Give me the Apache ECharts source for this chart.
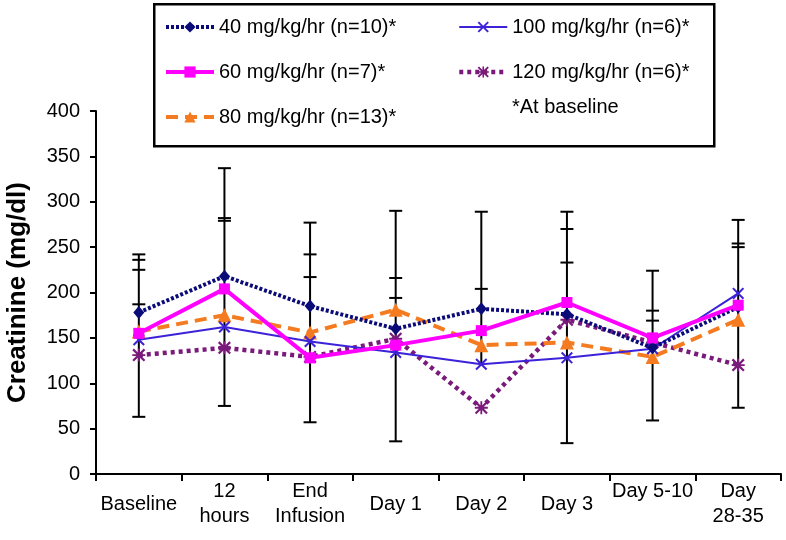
<!DOCTYPE html>
<html>
<head>
<meta charset="utf-8">
<script src="https://cdn.jsdelivr.net/npm/echarts@6/dist/echarts.min.js"></script>
<style>
html,body{margin:0;padding:0;background:#fff;}
#chart{width:786px;height:540px;}
</style>
</head>
<body>
<div id="chart"></div>
<script>
var categories = ['Baseline', '12\nhours', 'End\nInfusion', 'Day 1', 'Day 2', 'Day 3', 'Day 5-10', 'Day\n28-35'];
var yTicks = [0, 50, 100, 150, 200, 250, 300, 350, 400];

var s40 = [178, 218, 185, 160, 182, 176, 139, 184];
var s60 = [155, 204, 128, 142, 158, 189, 150, 186];
var s80 = [157, 175, 156, 181, 142, 145, 129, 170];
var s100 = [148, 162, 146, 134, 121, 128, 138, 199];
var s120 = [131, 139, 129, 149, 73, 170, 145, 120];

var errLow = [63, 75, 57, 36, 121, 34, 59, 73];
var errHigh = [242, 337, 277, 290, 289, 289, 224, 280];
var errCaps = [
  [242, 236, 225, 187, 63],
  [337, 282, 279, 75],
  [277, 242, 217, 57],
  [290, 216, 194, 36],
  [289, 204],
  [289, 270, 233, 34],
  [224, 180, 169, 59],
  [280, 254, 250, 73]
];

var names = ['40 mg/kg/hr (n=10)*', '60 mg/kg/hr (n=7)*', '80 mg/kg/hr (n=13)*', '100 mg/kg/hr (n=6)*', '120 mg/kg/hr (n=6)*'];
var note = '*At baseline';

var FONT = "'Liberation Sans', Arial, Helvetica, sans-serif";
var xPath = 'path://M0,1.2L1.2,0L5,3.8L8.8,0L10,1.2L6.2,5L10,8.8L8.8,10L5,6.2L1.2,10L0,8.8L3.8,5Z';
var starPath = 'path://M4.3,0H5.7V10H4.3Z M0,1.2L1.2,0L5,3.8L8.8,0L10,1.2L6.2,5L10,8.8L8.8,10L5,6.2L1.2,10L0,8.8L3.8,5Z M0,4.3H10V5.7H0Z';

var errData = categories.map(function (c, i) { return [i, errLow[i], errHigh[i]]; });

var legendText = {fontSize: 20, color: '#000', fontFamily: FONT, lineHeight: 20};

var chart = echarts.init(document.getElementById('chart'), null, {renderer: 'canvas'});
var option = {
  backgroundColor: '#ffffff',
  animation: false,
  textStyle: {fontFamily: FONT},
  grid: {left: 96, right: 5, top: 111, bottom: 66, containLabel: false, outerBoundsMode: 'none'},
  legend: [{
    data: names.slice(0, 3),
    orient: 'vertical',
    left: 164, top: 17, padding: 0,
    itemWidth: 48, itemHeight: 14, itemGap: 25,
    lineStyle: {width: 'inherit'},
    textStyle: legendText,
    selectedMode: false
  }, {
    data: names.slice(3, 5),
    orient: 'vertical',
    left: 457, top: 17, padding: 0,
    itemWidth: 48, itemHeight: 14, itemGap: 25,
    lineStyle: {width: 'inherit'},
    textStyle: legendText,
    selectedMode: false
  }],
  graphic: [{
    type: 'rect', z: 1, left: 153, top: 3,
    shape: {width: 560, height: 142},
    style: {fill: '#fff', stroke: '#000', lineWidth: 2.5}
  }, {
    type: 'text', z: 5, left: 512, top: 97,
    style: {text: note, font: '20px ' + FONT, fill: '#000'}
  }],
  xAxis: {
    type: 'category',
    data: categories,
    boundaryGap: true,
    axisLine: {lineStyle: {color: '#000', width: 2}},
    axisTick: {show: true, length: 7, lineStyle: {color: '#000', width: 2}},
    axisLabel: {
      interval: 0, color: '#000', fontSize: 20, fontFamily: FONT,
      lineHeight: 25, verticalAlign: 'middle', margin: 30,
      formatter: function (v) { return v === 'Day 5-10' ? v + '\n ' : v; }
    },
    splitLine: {show: false}
  },
  yAxis: {
    type: 'value', min: 0, max: 400, interval: 50,
    name: 'Creatinine (mg/dl)', nameLocation: 'middle', nameGap: 65, nameRotate: 90,
    nameTextStyle: {fontSize: 26, fontWeight: 'bold', color: '#000', fontFamily: FONT},
    axisLine: {show: true, lineStyle: {color: '#000', width: 2}},
    axisTick: {show: true, length: 6, lineStyle: {color: '#000', width: 2}},
    axisLabel: {color: '#000', fontSize: 20, fontFamily: FONT, margin: 16,
      formatter: function (v) { return yTicks.indexOf(v) >= 0 ? String(v) : ''; }},
    splitLine: {show: false}
  },
  series: [{
    type: 'custom', name: 'err', z: 1,
    data: errData,
    renderItem: function (params, api) {
      var i = api.value(0);
      var p1 = api.coord([i, api.value(1)]);
      var p2 = api.coord([i, api.value(2)]);
      var children = [{
        type: 'line', shape: {x1: p1[0], y1: p1[1], x2: p2[0], y2: p2[1]},
        style: {stroke: '#000', lineWidth: 2}
      }];
      errCaps[params.dataIndex].forEach(function (c) {
        var pc = api.coord([i, c]);
        children.push({type: 'line', shape: {x1: pc[0] - 6.5, y1: pc[1], x2: pc[0] + 6.5, y2: pc[1]},
          style: {stroke: '#000', lineWidth: 2}});
      });
      return {type: 'group', children: children};
    }
  }, {
    name: names[4], type: 'line', data: s120, z: 2,
    symbol: starPath, symbolSize: 13,
    itemStyle: {color: '#7a1a7a'},
    lineStyle: {color: '#7a1a7a', width: 4.5, type: [4, 4]}
  }, {
    name: names[2], type: 'line', data: s80, z: 3,
    symbol: 'triangle', symbolSize: 14,
    itemStyle: {color: '#f47b20'},
    lineStyle: {color: '#f47b20', width: 4, type: [12, 7]}
  }, {
    name: names[3], type: 'line', data: s100, z: 4,
    symbol: xPath, symbolSize: 12,
    itemStyle: {color: '#3c22d8'},
    lineStyle: {color: '#3c22d8', width: 2}
  }, {
    name: names[0], type: 'line', data: s40, z: 5,
    symbol: 'diamond', symbolSize: [11, 13],
    itemStyle: {color: '#0a0a78'},
    lineStyle: {color: '#0a0a78', width: 4, type: [3, 2]}
  }, {
    name: names[1], type: 'line', data: s60, z: 6,
    symbol: 'rect', symbolSize: 11,
    itemStyle: {color: '#ff00ff'},
    lineStyle: {color: '#ff00ff', width: 4}
  }]
};
chart.setOption(option);
</script>
</body>
</html>
